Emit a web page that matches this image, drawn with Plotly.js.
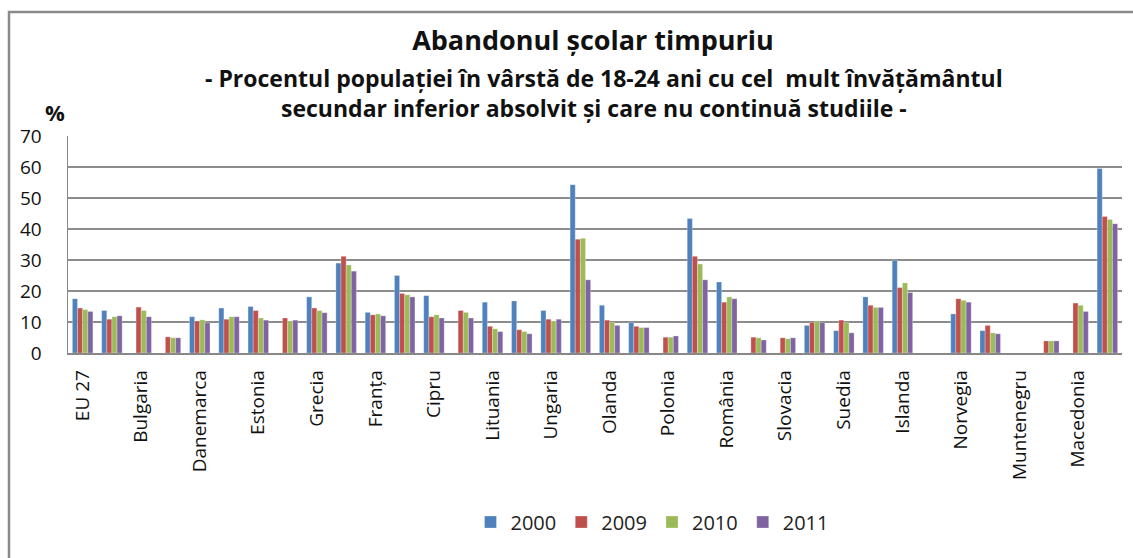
<!DOCTYPE html>
<html>
<head>
<meta charset="utf-8">
<script src="https://cdn.plot.ly/plotly-3.0.1.min.js"></script>
<style>
html,body{margin:0;padding:0;background:#fff;}
#chart{width:1133px;height:558px;}
</style>
</head>
<body>
<div id="chart"></div>
<script>
const categories = ["EU 27","Belgia","Bulgaria","Cehia","Danemarca","Germania","Estonia","Irlanda","Grecia","Spania","Franța","Italia","Cipru","Letonia","Lituania","Luxemburg","Ungaria","Malta","Olanda","Austria","Polonia","Portugalia","România","Slovenia","Slovacia","Finlanda","Suedia","Regatul Unit","Islanda","Liechtenstein","Norvegia","Elveția","Muntenegru","Croația","Macedonia","Turcia"];
const shownLabels = ["EU 27","Bulgaria","Danemarca","Estonia","Grecia","Franța","Cipru","Lituania","Ungaria","Olanda","Polonia","România","Slovacia","Suedia","Islanda","Norvegia","Muntenegru","Macedonia"];
const years = ["2000","2009","2010","2011"];
const v2000 = [17.5,13.7,null,null,11.7,14.5,15.0,null,18.1,29.0,13.1,25.0,18.5,null,16.4,16.8,13.7,54.3,15.4,9.8,null,43.4,22.9,null,null,8.9,7.2,18.1,29.9,null,12.6,7.2,null,null,null,59.5];
const v2009 = [14.5,10.9,14.8,5.2,10.3,10.9,13.7,11.3,14.5,31.2,12.3,19.2,11.7,13.7,8.6,7.5,10.9,36.7,10.6,8.6,5.1,31.2,16.4,5.1,4.9,9.8,10.6,15.4,21.1,null,17.5,8.9,null,3.9,16.1,44.0];
const v2010 = [14.0,11.7,13.7,4.9,10.7,11.7,11.3,10.3,13.7,28.4,12.6,18.8,12.3,13.1,7.8,6.9,10.3,37.0,9.9,8.2,5.1,28.7,18.1,4.9,4.6,10.3,9.8,14.7,22.6,null,17.0,6.5,null,3.9,15.4,43.1];
const v2011 = [13.4,12.0,11.7,4.9,9.7,11.7,10.6,10.6,13.0,26.4,12.0,18.1,11.3,11.3,6.9,6.2,10.9,23.6,8.9,8.2,5.5,23.6,17.5,4.2,4.9,9.8,6.5,14.7,19.5,null,16.4,6.2,null,3.9,13.4,41.7];
const yTicks = [0,10,20,30,40,50,60,70];

const colors = ["#4F81BD","#C0504D","#9BBB59","#8064A2"];
const series = [v2000, v2009, v2010, v2011];
const FONT = "Open Sans, sans-serif";

const traces = series.map((vals, i) => ({
  type: "bar",
  name: years[i],
  x: categories,
  y: vals,
  marker: {color: colors[i], line: {color: "rgba(255,255,255,0.45)", width: 0.6}},
  hoverinfo: "x+y+name"
}));

const L = 68, R = 11, T = 136, B = 205;
const pw = 1133 - L - R, ph = 558 - T - B;
const px = x => (x - L) / pw;
const py = y => (558 - B - y) / ph;

const layout = {
  width: 1133, height: 558,
  margin: {l: L, r: R, t: T, b: B, pad: 0},
  paper_bgcolor: "#ffffff",
  plot_bgcolor: "#ffffff",
  font: {family: FONT, color: "#222"},
  barmode: "group",
  bargap: 0.3,
  bargroupgap: 0,
  title: {
    text: "<b>Abandonul școlar timpuriu</b>",
    font: {family: FONT, size: 27, color: "#111"},
    x: px(593), xanchor: "center", xref: "paper",
    y: 1 - 41/558, yanchor: "middle", yref: "container"
  },
  xaxis: {
    type: "category",
    categoryorder: "array", categoryarray: categories,
    tickmode: "array", tickvals: shownLabels, ticktext: shownLabels,
    tickangle: -90,
    tickfont: {family: FONT, size: 19, color: "#111"},
    ticks: "", ticklabelstandoff: 8,
    showline: true, linecolor: "#888", linewidth: 1.5,
    showgrid: false, zeroline: false,
    fixedrange: true
  },
  yaxis: {
    range: [0, 70],
    tickmode: "array", tickvals: yTicks,
    tickfont: {family: FONT, size: 19, color: "#111"},
    ticks: "", ticklabelstandoff: 21,
    showline: true, linecolor: "#888", linewidth: 1.5,
    showgrid: true, gridcolor: "#8c8c8c", gridwidth: 1.5,
    zeroline: false, fixedrange: true
  },
  legend: {
    orientation: "h",
    x: px(652), xanchor: "center",
    y: py(522), yanchor: "middle",
    font: {family: FONT, size: 20, color: "#222"},
    itemwidth: 30,
    traceorder: "normal",
    bgcolor: "rgba(0,0,0,0)"
  },
  annotations: [
    {text: "<b>- Procentul populației în vârstă de 18-24 ani cu cel  mult învățământul</b>",
     xref: "paper", yref: "paper", x: px(604), y: py(78), xanchor: "center", yanchor: "middle",
     showarrow: false, font: {family: FONT, size: 23, color: "#111"}},
    {text: "<b>secundar inferior absolvit și care nu continuă studiile -</b>",
     xref: "paper", yref: "paper", x: px(594), y: py(108), xanchor: "center", yanchor: "middle",
     showarrow: false, font: {family: FONT, size: 23, color: "#111"}},
    {text: "<b>%</b>",
     xref: "paper", yref: "paper", x: px(55), y: py(112), xanchor: "center", yanchor: "middle",
     showarrow: false, font: {family: FONT, size: 22, color: "#111"}}
  ],
  shapes: [
    {type: "rect", xref: "paper", yref: "paper",
     x0: px(9), x1: px(1140), y0: py(570), y1: py(12),
     line: {color: "#8a8a8a", width: 2.5}, fillcolor: "rgba(0,0,0,0)", layer: "below"}
  ]
};

Plotly.newPlot("chart", traces, layout, {displayModeBar: false, staticPlot: true});
</script>
</body>
</html>
